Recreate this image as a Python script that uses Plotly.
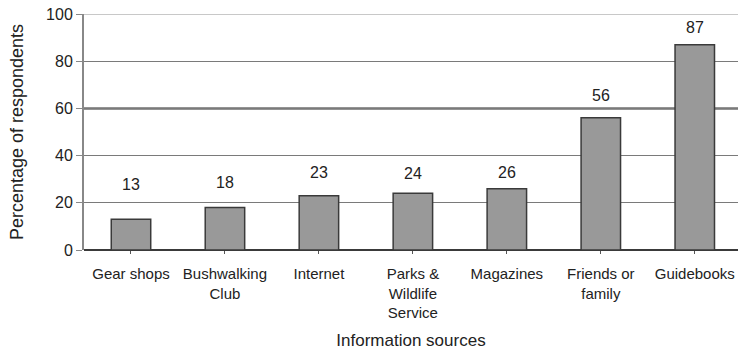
import plotly.graph_objects as go

# Survey results: where respondents get their bushwalking information
categories = [
    "Gear shops",
    "Bushwalking<br>Club",
    "Internet",
    "Parks &<br>Wildlife<br>Service",
    "Magazines",
    "Friends or<br>family",
    "Guidebooks",
]
percentages = [13, 18, 23, 24, 26, 56, 87]
y_ticks = [0, 20, 40, 60, 80, 100]

# vertical gap (px) between each bar top and its value label centre
label_gap_px = [35, 25, 23, 20, 16, 22, 17]

FONT = "Liberation Sans, Arial, sans-serif"
TEXT = "#222222"

fig = go.Figure()
fig.add_trace(
    go.Bar(
        x=list(range(len(categories))),
        y=percentages,
        width=0.42,
        marker=dict(color="#999999", line=dict(color="#3a3a3a", width=1.5)),
        hoverinfo="skip",
    )
)

for i, (v, gap) in enumerate(zip(percentages, label_gap_px)):
    fig.add_annotation(
        x=i, y=v, text=str(v), showarrow=False,
        yshift=gap, yanchor="middle",
        font=dict(family=FONT, size=16, color=TEXT),
    )

# emphasised 60 % line and faint 100 % line
fig.add_shape(type="line", xref="paper", yref="y", x0=0, x1=1, y0=60, y1=60,
              line=dict(color="#2a2a2a", width=2), layer="below")
fig.add_shape(type="line", xref="paper", yref="y", x0=0, x1=1, y0=100, y1=100,
              line=dict(color="#c8c8c8", width=2), layer="below")

fig.update_layout(
    width=738, height=354,
    margin=dict(l=84, r=0, t=14, b=104),
    paper_bgcolor="white", plot_bgcolor="white",
    showlegend=False,
    font=dict(family=FONT, color=TEXT),
)

fig.update_xaxes(
    tickmode="array",
    tickvals=list(range(len(categories))),
    ticktext=categories,
    range=[-0.5, len(categories) - 0.54],
    tickson="boundaries",
    ticks="outside", ticklen=3, tickcolor="#555555",
    showline=False, showgrid=False, zeroline=False,
    ticklabelstandoff=7,
    tickfont=dict(family=FONT, size=15, color=TEXT),
    title=dict(text="Information sources", standoff=14,
               font=dict(family=FONT, size=17, color=TEXT)),
)

fig.update_yaxes(
    range=[0, 100],
    tickmode="array", tickvals=y_ticks,
    ticks="outside", ticklen=6, tickcolor="#888888",
    showline=True, linecolor="#888888", linewidth=2,
    showgrid=True, gridcolor="#7a7a7a", gridwidth=1,
    zeroline=True, zerolinecolor="#3a3a3a", zerolinewidth=2,
    tickfont=dict(family=FONT, size=16, color=TEXT),
    title=dict(text="Percentage of respondents", standoff=18,
               font=dict(family=FONT, size=18, color=TEXT)),
)

fig.write_html("out.html")
